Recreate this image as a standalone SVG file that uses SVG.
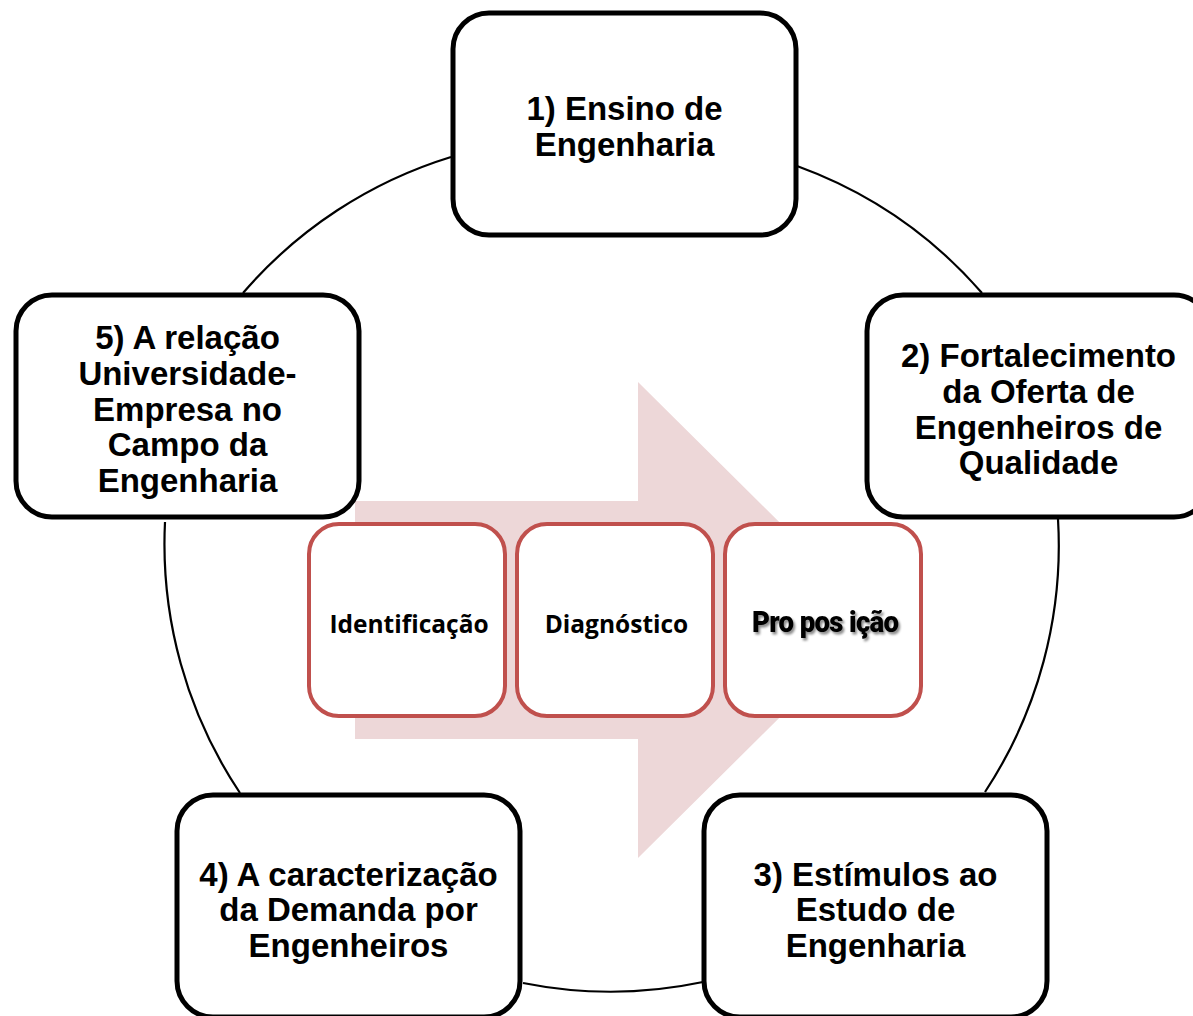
<svg xmlns="http://www.w3.org/2000/svg" width="1193" height="1016" viewBox="0 0 1193 1016">
<defs>
<style>
.ring{fill:none;stroke:#000;stroke-width:2.2}
.node rect{fill:#fff;stroke:#000;stroke-width:5}
.node text{font-family:"Liberation Sans",Arial,sans-serif;font-weight:bold;font-size:33px;fill:#000;text-anchor:middle}
.step rect{fill:#fff;stroke:#C0504D;stroke-width:4}
.step text{font-family:"Open Sans","Liberation Sans",sans-serif;font-weight:700;font-size:24.5px;fill:#000;text-anchor:middle}
.arrow{fill:#EDD7D8}
</style>
<filter id="shadow" x="-10%" y="-30%" width="130%" height="170%">
<feDropShadow dx="2" dy="2.5" stdDeviation="1.2" flood-color="#000" flood-opacity="0.45"/>
</filter>
</defs>
<rect width="1193" height="1016" fill="#fff"/>
<g id="connectors">
<path class="ring" d="M 243 293 A 448 448 0 0 1 451 157"/>
<path class="ring" d="M 797 166 A 448 448 0 0 1 982 293"/>
<path class="ring" d="M 1058 519 A 448 448 0 0 1 985 792"/>
<path class="ring" d="M 703 982 A 448 448 0 0 1 523 983"/>
<path class="ring" d="M 240 793 A 448 448 0 0 1 165 522"/>
</g>
<g id="process-arrow">
<polygon class="arrow" points="355,501 638,501 638,382 878,620 638,858 638,739 355,739"/>
</g>
<g id="node1" class="node">
<rect x="453" y="13" width="343" height="222" rx="36"/>
<text x="624.5" y="120">1) Ensino de</text>
<text x="624.5" y="156">Engenharia</text>
</g>
<g id="node2" class="node">
<rect x="867" y="295" width="343" height="222" rx="36"/>
<text x="1038.5" y="367">2) Fortalecimento</text>
<text x="1038.5" y="402.5">da Oferta de</text>
<text x="1038.5" y="438.5">Engenheiros de</text>
<text x="1038.5" y="474">Qualidade</text>
</g>
<g id="node3" class="node">
<rect x="704" y="795" width="343" height="222" rx="36"/>
<text x="875.5" y="885.5">3) Estímulos ao</text>
<text x="875.5" y="921">Estudo de</text>
<text x="875.5" y="956.5">Engenharia</text>
</g>
<g id="node4" class="node">
<rect x="177" y="795" width="343" height="222" rx="36"/>
<text x="348.5" y="885.5">4) A caracterização</text>
<text x="348.5" y="921">da Demanda por</text>
<text x="348.5" y="956.5">Engenheiros</text>
</g>
<g id="node5" class="node">
<rect x="16" y="295" width="343" height="222" rx="36"/>
<text x="187.5" y="349">5) A relação</text>
<text x="187.5" y="384.5">Universidade-</text>
<text x="187.5" y="420.5">Empresa no</text>
<text x="187.5" y="456">Campo da</text>
<text x="187.5" y="491.5">Engenharia</text>
</g>
<g id="step1" class="step">
<rect x="309" y="524" width="196" height="192" rx="30"/>
<text x="409" y="633">Identificação</text>
</g>
<g id="step2" class="step">
<rect x="517" y="524" width="196" height="192" rx="30"/>
<text x="616.5" y="633">Diagnóstico</text>
</g>
<g id="step3" class="step">
<rect x="725" y="524" width="196" height="192" rx="30"/>
<text transform="translate(752,632) scale(0.92,1)" x="0" y="0" style="font-family:Roboto,'Liberation Sans',sans-serif;font-weight:900;font-size:30px;text-anchor:start;letter-spacing:-0.8px" filter="url(#shadow)">Pro<tspan dx="7">pos</tspan><tspan dx="7">ição</tspan></text>
</g>
</svg>
